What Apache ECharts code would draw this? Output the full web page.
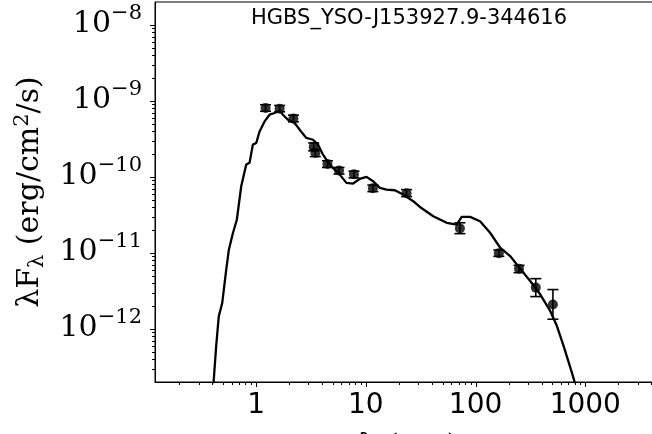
<!DOCTYPE html>
<html><head><meta charset="utf-8">
<script src="https://cdn.jsdelivr.net/npm/echarts@6/dist/echarts.min.js"></script>
<style>html,body{margin:0;padding:0;background:#fff}#c{width:652px;height:434px}</style>
</head><body><div id="c"></div>
<script>
const titleText = 'HGBS_YSO-J153927.9-344616';
const obsWave = [1.22, 1.64, 2.19, 3.35, 3.47, 4.47, 5.7, 7.8, 11.6, 23.5, 72, 163, 249, 354, 507];
const obsFlux = [8.05e-10, 7.9e-10, 5.87e-10, 2.48e-10, 2.07e-10, 1.48e-10, 1.21e-10, 1.08e-10, 7.08e-11, 6.1e-11, 2.1e-11, 9.9e-12, 6.2e-12, 3.49e-12, 2.09e-12];
const obsLow  = [7.3e-10, 7.2e-10, 5.3e-10, 2.2e-10, 1.85e-10, 1.33e-10, 1.09e-10, 0.97e-10, 6.4e-11, 5.5e-11, 1.79e-11, 9.0e-12, 5.5e-12, 2.66e-12, 1.34e-12];
const obsHigh = [8.9e-10, 8.7e-10, 6.5e-10, 2.8e-10, 2.3e-10, 1.63e-10, 1.33e-10, 1.19e-10, 7.8e-11, 6.8e-11, 2.49e-11, 1.09e-11, 6.86e-12, 4.58e-12, 3.29e-12];
const modelWave = [0.4074, 0.4117, 0.4330, 0.4573, 0.4912, 0.5342, 0.5644, 0.6139, 0.668, 0.7325, 0.8137, 0.8723, 0.935, 1.004, 1.076, 1.196, 1.328, 1.476, 1.639, 1.757, 1.951, 2.247, 2.496, 2.873, 3.302, 3.667, 4.074, 4.691, 5.788, 6.664, 7.656, 8.815, 10.15, 11.66, 13.43, 15.45, 18.40, 21.91, 27.04, 31.13, 41.18, 54.58, 67.35, 74.82, 89.10, 109.9, 135.7, 167.4, 206.6, 254.9, 314.6, 388.2, 479.1, 551.5, 633.8, 729.5, 793.6, 827.7];
const modelFlux = [1.72e-13, 2.14e-13, 5.88e-13, 1.46e-12, 2.17e-12, 5.94e-12, 1.09e-11, 1.80e-11, 2.73e-11, 7.53e-11, 1.45e-10, 1.53e-10, 2.66e-10, 2.79e-10, 3.96e-10, 5.37e-10, 6.58e-10, 6.92e-10, 7.49e-10, 6.58e-10, 5.65e-10, 5.11e-10, 4.18e-10, 3.25e-10, 3.08e-10, 2.66e-10, 1.96e-10, 1.45e-10, 1.07e-10, 8.34e-11, 8.17e-11, 9.42e-11, 1.0e-10, 8.75e-11, 7.17e-11, 6.81e-11, 6.67e-11, 5.86e-11, 4.79e-11, 4.02e-11, 3.04e-11, 2.49e-11, 2.36e-11, 2.98e-11, 2.98e-11, 2.61e-11, 1.84e-11, 1.17e-11, 9.08e-12, 6.21e-12, 4.27e-12, 2.85e-12, 1.72e-12, 1.09e-12, 5.98e-13, 3.11e-13, 2.08e-13, 1.62e-13];
const xTickLabels = ['1', '10', '100', '1000'];
const yTickExponents = [-12, -11, -10, -9, -8];
const xRange = [0.12, 5000];
const yRange = [2e-13, 2e-8];

const isPow10 = v => { const l = Math.log10(v); return Math.abs(l - Math.round(l)) < 1e-6; };

// tick marks (drawn via axis scales)
const xMajor = xTickLabels.map(Number);
const yMajor = yTickExponents.map(e => Math.pow(10, e));
const minorVals = (lo, hi) => {
  const out = [];
  for (let n = Math.floor(Math.log10(lo)); n <= Math.ceil(Math.log10(hi)); n++) {
    for (let k = 2; k <= 9; k++) { const v = k * Math.pow(10, n); if (v > lo && v < hi) out.push(v); }
  }
  return out;
};
const xTickData = xMajor.map(v => [v, yRange[0], 5]).concat(minorVals(xRange[0], xRange[1]).map(v => [v, yRange[0], 3]));
const yTickData = yMajor.map(v => [xRange[0], v, 5]).concat(minorVals(yRange[0], yRange[1]).map(v => [xRange[0], v, 3]));

const chart = echarts.init(document.getElementById('c'), null, {renderer: 'canvas'});
const serif = 'DejaVu Serif';
const sans = 'DejaVu Sans';
chart.setOption({
  animation: false,
  backgroundColor: '#fff',
  grid: {left: 155, top: 2, right: -10, bottom: 52, show: true, borderColor: '#000', borderWidth: 1, containLabel: false, outerBoundsMode: 'none'},
  graphic: [{
    type: 'text', x: 409, y: 19,
    style: {text: titleText, fontFamily: sans, fontSize: 21, fill: '#000', textAlign: 'center', textVerticalAlign: 'middle'}
  }],
  xAxis: {
    type: 'log', logBase: 10, min: xRange[0], max: xRange[1],
    name: 'λ (μm)', nameLocation: 'middle', nameGap: 50,
    nameTextStyle: {fontFamily: serif, fontSize: 30, color: '#000', verticalAlign: 'top'},
    axisLine: {show: true, lineStyle: {color: '#000', width: 1}},
    axisTick: {show: false}, splitLine: {show: false}, minorTick: {show: false},
    axisLabel: {
      color: '#000', fontFamily: sans, fontSize: 28, margin: 10,
      formatter: v => (isPow10(v) && xTickLabels.includes(String(Math.round(v)))) ? String(Math.round(v)) : ''
    }
  },
  yAxis: {
    type: 'log', logBase: 10, min: yRange[0], max: yRange[1],
    name: '{a|λF}{s|λ}{a| (erg/cm}{p|2}{a|/s)}', nameLocation: 'middle', nameGap: 104, nameRotate: 90,
    nameTextStyle: {
      color: '#000',
      rich: {
        a: {fontFamily: serif, fontSize: 30, color: '#000', lineHeight: 42, verticalAlign: 'middle'},
        s: {fontFamily: serif, fontSize: 21, color: '#000', lineHeight: 42, verticalAlign: 'middle', padding: [16, 0, 0, 0]},
        p: {fontFamily: serif, fontSize: 21, color: '#000', lineHeight: 42, verticalAlign: 'middle', padding: [0, 0, 14, 0]}
      }
    },
    axisLine: {show: true, lineStyle: {color: '#000', width: 1}},
    axisTick: {show: false}, splitLine: {show: false}, minorTick: {show: false},
    axisLabel: {
      margin: 13, color: '#000',
      formatter: v => {
        if (!isPow10(v)) return '';
        const e = Math.round(Math.log10(v));
        if (!yTickExponents.includes(e)) return '';
        return '{b|10}{e|' + (e < 0 ? '\u2212' : '') + Math.abs(e) + '}';
      },
      rich: {
        b: {fontFamily: serif, fontSize: 30, color: '#000', verticalAlign: 'bottom', padding: [6, 0, 8, 0]},
        e: {fontFamily: serif, fontSize: 21, color: '#000', verticalAlign: 'top'}
      }
    }
  },
  series: [
    {
      type: 'line', data: modelWave.map((w, i) => [w, modelFlux[i]]),
      showSymbol: false, smooth: false, clip: true,
      lineStyle: {color: '#000', width: 2.3}, z: 2
    },
    {
      type: 'custom', clip: false, z: 3,
      data: obsWave.map((w, i) => [w, obsLow[i], obsHigh[i]]),
      renderItem: (params, api) => {
        const lo = api.coord([api.value(0), api.value(1)]);
        const hi = api.coord([api.value(0), api.value(2)]);
        const st = {stroke: '#000', lineWidth: 1.6};
        return {type: 'group', children: [
          {type: 'line', shape: {x1: lo[0], y1: lo[1], x2: hi[0], y2: hi[1]}, style: st},
          {type: 'line', shape: {x1: lo[0] - 5.5, y1: lo[1], x2: lo[0] + 5.5, y2: lo[1]}, style: st},
          {type: 'line', shape: {x1: hi[0] - 5.5, y1: hi[1], x2: hi[0] + 5.5, y2: hi[1]}, style: st}
        ]};
      }
    },
    {
      type: 'scatter', data: obsWave.map((w, i) => [w, obsFlux[i]]),
      symbol: 'circle', symbolSize: 10, itemStyle: {color: '#000'}, z: 4
    },
    {
      type: 'custom', clip: false, silent: true, z: 5, data: xTickData,
      renderItem: (params, api) => {
        const p = api.coord([api.value(0), api.value(1)]);
        const x = Math.round(p[0]) + 0.5;
        return {type: 'line', shape: {x1: x, y1: p[1], x2: x, y2: p[1] + api.value(2)}, style: {stroke: '#000', lineWidth: 1}};
      }
    },
    {
      type: 'custom', clip: false, silent: true, z: 5, data: yTickData,
      renderItem: (params, api) => {
        const p = api.coord([api.value(0), api.value(1)]);
        const y = Math.round(p[1]) + 0.5;
        return {type: 'line', shape: {x1: p[0] - api.value(2), y1: y, x2: p[0], y2: y}, style: {stroke: '#000', lineWidth: 1}};
      }
    }
  ]
});
</script></body></html>
